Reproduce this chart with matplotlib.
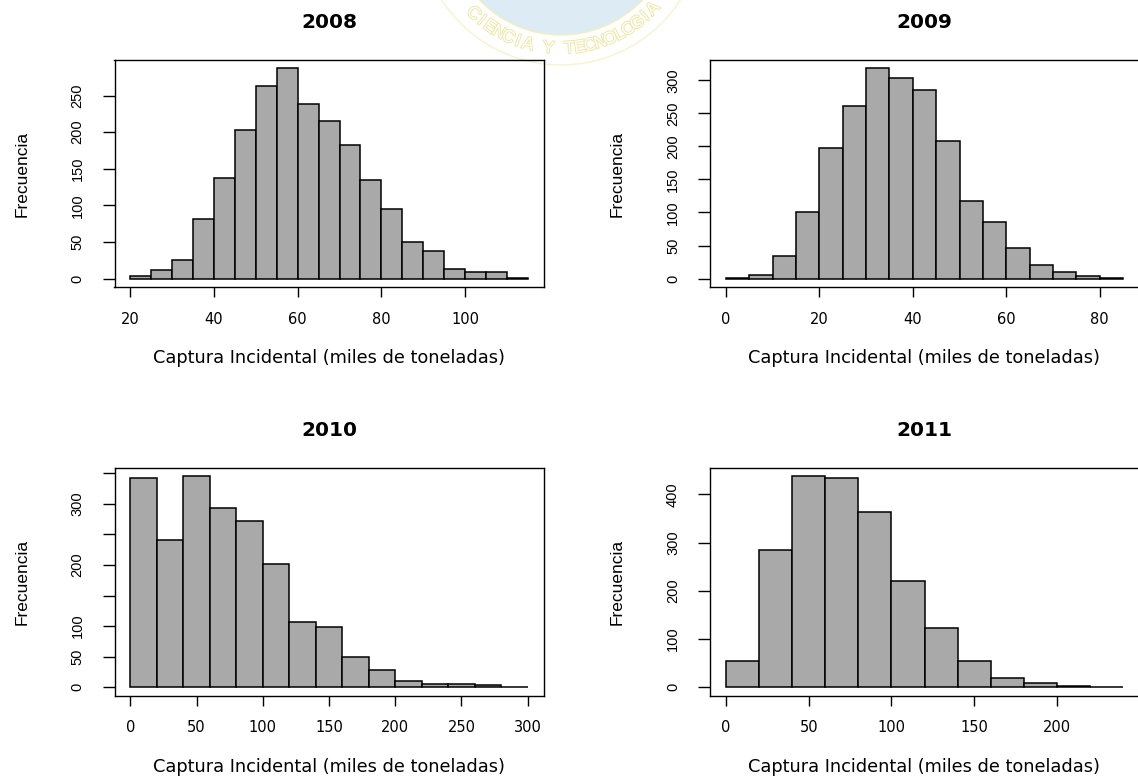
import matplotlib
matplotlib.use("Agg")
import matplotlib.pyplot as plt
import numpy as np
from matplotlib.transforms import offset_copy
from matplotlib.patches import Circle
import matplotlib.patheffects as pe

# ---------------- data ----------------
years = ["2008", "2009", "2010", "2011"]

breaks_2008 = [20, 25, 30, 35, 40, 45, 50, 55, 60, 65, 70, 75, 80, 85, 90, 95, 100, 105, 110, 115]
counts_2008 = [3, 12, 26, 82, 138, 203, 263, 287, 239, 215, 182, 135, 95, 50, 38, 13, 9, 9, 1]

breaks_2009 = [0, 5, 10, 15, 20, 25, 30, 35, 40, 45, 50, 55, 60, 65, 70, 75, 80, 85]
counts_2009 = [1, 5, 34, 101, 197, 261, 318, 304, 285, 208, 118, 86, 47, 20, 10, 4, 1]

breaks_2010 = [0, 20, 40, 60, 80, 100, 120, 140, 160, 180, 200, 220, 240, 260, 280, 300]
counts_2010 = [343, 241, 345, 293, 272, 202, 106, 99, 50, 29, 10, 5, 5, 3, 1]

breaks_2011 = [0, 20, 40, 60, 80, 100, 120, 140, 160, 180, 200, 220, 240]
counts_2011 = [55, 284, 437, 434, 363, 220, 122, 55, 20, 9, 2, 1]

xticks_2008 = [20, 40, 60, 80, 100]
xticks_2009 = [0, 20, 40, 60, 80]
xticks_2010 = [0, 50, 100, 150, 200, 250, 300]
xticks_2011 = [0, 50, 100, 150, 200]

yticks_2008 = [0, 50, 100, 150, 200, 250]
yticks_2009 = [0, 50, 100, 150, 200, 250, 300]
yticks_2010 = [0, 50, 100, 150, 200, 250, 300, 350]
ylabels_2010 = ["0", "50", "100", "", "200", "", "300", ""]
yticks_2011 = [0, 100, 200, 300, 400]

xlabel_text = "Captura Incidental (miles de toneladas)"
ylabel_text = "Frecuencia"
watermark_text = "CIENCIA Y TECNOLOGIA"

panels = [
    (years[0], breaks_2008, counts_2008, xticks_2008, yticks_2008, None),
    (years[1], breaks_2009, counts_2009, xticks_2009, yticks_2009, None),
    (years[2], breaks_2010, counts_2010, xticks_2010, yticks_2010, ylabels_2010),
    (years[3], breaks_2011, counts_2011, xticks_2011, yticks_2011, None),
]

# ---------------- figure ----------------
W, H = 1138, 776
DPI = 100
fig = plt.figure(figsize=(W / DPI, H / DPI), dpi=DPI)
fig.patch.set_facecolor("white")

PT = 72.0 / DPI  # points per pixel

# watermark (faint logo) in pixel coordinates
bg = fig.add_axes([0, 0, 1, 1], zorder=-5)
bg.set_xlim(0, W)
bg.set_ylim(H, 0)
bg.axis("off")
cx, cy = 561, -77
bg.add_patch(Circle((cx, cy), 142, facecolor="none", edgecolor="#F7F3CF", lw=1.0))
bg.add_patch(Circle((cx, cy), 112, facecolor="#DDEBF5", edgecolor="#F3EDC0", lw=1.0))
n = len(watermark_text)
angles = np.linspace(-134.0, -43.0, n)
for ch, a in zip(watermark_text, angles):
    if ch == " ":
        continue
    r = 126
    x = cx + r * np.cos(np.radians(a))
    y = cy - r * np.sin(np.radians(a))
    bg.text(x, y, ch, rotation=a + 90, ha="center", va="center",
            rotation_mode="anchor", fontsize=12.5, family="Liberation Sans",
            color="#FFFFFF",
            path_effects=[pe.withStroke(linewidth=1.4, foreground="#EFE7A6")])

# panel boxes in pixels: (left, top, right, bottom)
boxes = [
    (114.5, 60.0, 543.6, 287.0),
    (710.0, 60.0, 1139.0, 287.0),
    (114.5, 468.0, 543.6, 695.7),
    (710.0, 468.0, 1139.0, 695.7),
]

for (title, br, cnt, xt, yt, ylabs), (l, t, r, b) in zip(panels, boxes):
    ax = fig.add_axes([l / W, (H - b) / H, (r - l) / W, (b - t) / H])
    ax.set_facecolor("none")
    lefts = br[:-1]
    widths = np.diff(br)
    ax.bar(lefts, cnt, width=widths, align="edge", color="#A9A9A9",
           edgecolor="black", linewidth=1.1)
    rng = br[-1] - br[0]
    ax.set_xlim(br[0] - 0.04 * rng, br[-1] + 0.04 * rng)
    m = max(cnt)
    ax.set_ylim(-0.04 * m, 1.04 * m)
    for s in ax.spines.values():
        s.set_linewidth(1.0)
        s.set_color("black")

    ax.set_xticks(xt)
    ax.set_xticklabels([str(v) for v in xt], fontsize=10.5, family="DejaVu Sans")
    ax.set_yticks(yt)
    if ylabs is None:
        ylabs = [str(v) for v in yt]
    ax.set_yticklabels(ylabs, fontsize=10.5, family="Liberation Sans")

    ax.tick_params(axis="x", direction="out", length=9.5 * PT, width=1.0,
                   pad=27 * PT)
    ax.tick_params(axis="y", direction="out", length=12.5 * PT, width=1.0,
                   pad=20.5 * PT)
    for lab in ax.get_xticklabels():
        lab.set_va("baseline")
        lab.set_ha("center")
    for lab in ax.get_yticklabels():
        lab.set_rotation(90)
        lab.set_rotation_mode("anchor")
        lab.set_ha("center")
        lab.set_va("baseline")

    # title
    ax.text(0.5, 1.0, title,
            transform=offset_copy(ax.transAxes, fig=fig, x=0, y=32.5, units="dots"),
            ha="center", va="baseline", fontsize=14.5, fontweight="bold",
            family="DejaVu Sans")
    # x label
    ax.text(0.5, 0.0, xlabel_text,
            transform=offset_copy(ax.transAxes, fig=fig, x=0, y=-76, units="dots"),
            ha="center", va="baseline", fontsize=12.8, family="DejaVu Sans")
    # y label
    ax.text(0.0, 0.5, ylabel_text,
            transform=offset_copy(ax.transAxes, fig=fig, x=-88, y=0, units="dots"),
            ha="center", va="baseline", rotation=90, rotation_mode="anchor",
            fontsize=12.5, family="Liberation Sans")

fig.savefig("out.png", dpi=DPI, facecolor="white")
